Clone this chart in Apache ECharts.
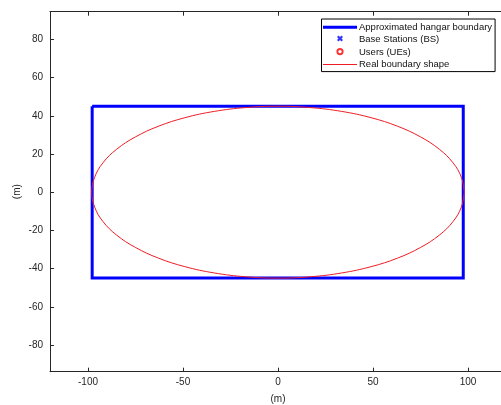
<!DOCTYPE html>
<html>
<head>
<meta charset="utf-8">
<script src="https://cdn.jsdelivr.net/npm/echarts@6/dist/echarts.min.js"></script>
<style>
  html, body { margin: 0; padding: 0; background: #fff; }
  #chart { width: 501px; height: 405px; }
</style>
</head>
<body>
<div id="chart"></div>
<script>
// hangar rectangle corners (m)
const hangarX = [-97.8, 97.5, 97.5, -97.8, -97.8];
const hangarY = [45, 45, -45, -45, 45];

// real boundary shape, every 10 degrees
const boundaryX = [98, 96.5, 92.1, 84.9, 75.1, 63.0, 49.0, 33.5, 17.0, 0,
  -17.0, -33.5, -49.0, -63.0, -75.1, -84.9, -92.1, -96.5, -98,
  -96.5, -92.1, -84.9, -75.1, -63.0, -49.0, -33.5, -17.0, 0,
  17.0, 33.5, 49.0, 63.0, 75.1, 84.9, 92.1, 96.5, 98];
const boundaryY = [0, 7.8, 15.4, 22.5, 28.9, 34.5, 39.0, 42.3, 44.3, 45,
  44.3, 42.3, 39.0, 34.5, 28.9, 22.5, 15.4, 7.8, 0,
  -7.8, -15.4, -22.5, -28.9, -34.5, -39.0, -42.3, -44.3, -45,
  -44.3, -42.3, -39.0, -34.5, -28.9, -22.5, -15.4, -7.8, 0];

const xTicks = [-100, -50, 0, 50, 100];
const yTicks = [-80, -60, -40, -20, 0, 20, 40, 60, 80];

const seriesNames = ['Approximated hangar boundary', 'Base Stations (BS)', 'Users (UEs)', 'Real boundary shape'];

const chart = echarts.init(document.getElementById('chart'));

const axisColor = '#262626';
const font = 'Liberation Sans, Arial, sans-serif';

// legend icons, padded so they keep their size inside the 34x12 slot
const thickLine = 'path://M0,0Z M34,12Z M0,4.5H34V7.5H0Z';
const thinLine = 'path://M0,0Z M34,12Z M0,5.5H34V6.5H0Z';
const crossIcon = 'path://M0,0Z M34,12Z M14,3.5L15.5,2L17,3.5L18.5,2L20,3.5L18.5,5L20,6.5L18.5,8L17,6.5L15.5,8L14,6.5L15.5,5Z';
const ringIcon = 'path://M0,0Z M34,12Z M17,2A3.6,3.6 0 1,1 17,9.2A3.6,3.6 0 1,1 17,2Z M17,3.9A1.7,1.7 0 1,0 17,7.3A1.7,1.7 0 1,0 17,3.9Z';

const option = {
  animation: false,
  grid: { left: 50, top: 11.7, width: 456, height: 360, outerBoundsMode: 'none' },
  legend: {
    orient: 'vertical',
    left: 321.5,
    top: 19,
    padding: [2, 3, 1, 1.5],
    itemWidth: 34,
    itemHeight: 12,
    itemGap: 0,
    borderColor: '#000',
    borderWidth: 1,
    borderRadius: 0,
    backgroundColor: '#fff',
    textStyle: { fontSize: 9.5, fontFamily: font, color: '#111', lineHeight: 12.4, padding: [0, 0, 0, -3] },
    data: [
      { name: seriesNames[0], icon: thickLine, itemStyle: { color: '#0000ff' } },
      { name: seriesNames[1], icon: crossIcon },
      { name: seriesNames[2], icon: ringIcon },
      { name: seriesNames[3], icon: thinLine, itemStyle: { color: '#ee1c24' } }
    ]
  },
  xAxis: [
    {
      type: 'value',
      min: -120,
      max: 120,
      name: '(m)',
      nameLocation: 'middle',
      nameGap: 23,
      nameMoveOverlap: false,
      nameTextStyle: { fontSize: 10, fontFamily: font, color: axisColor },
      splitLine: { show: false },
      axisLine: { show: true, onZero: false, lineStyle: { color: axisColor, width: 1 } },
      axisTick: { show: true, inside: true, length: 4, customValues: xTicks, lineStyle: { color: axisColor } },
      axisLabel: { customValues: xTicks, fontSize: 10, fontFamily: font, color: axisColor, margin: 6 }
    },
    {
      type: 'value',
      position: 'top',
      min: -120,
      max: 120,
      splitLine: { show: false },
      axisLine: { show: true, onZero: false, lineStyle: { color: axisColor, width: 1 } },
      axisTick: { show: true, inside: true, length: 4, customValues: xTicks, lineStyle: { color: axisColor } },
      axisLabel: { show: false }
    }
  ],
  yAxis: {
    type: 'value',
    min: -94,
    max: 94.5,
    name: '(m)',
    nameLocation: 'middle',
    nameGap: 28,
    nameMoveOverlap: false,
    nameTextStyle: { fontSize: 10, fontFamily: font, color: axisColor },
    splitLine: { show: false },
    axisLine: { show: true, onZero: false, lineStyle: { color: axisColor, width: 1 } },
    axisTick: { show: true, inside: true, length: 4, customValues: yTicks, lineStyle: { color: axisColor } },
    axisLabel: { customValues: yTicks, fontSize: 10, fontFamily: font, color: axisColor, margin: 7 }
  },
  series: [
    {
      name: seriesNames[0],
      type: 'line',
      symbol: 'none',
      color: '#0000ff',
      lineStyle: { color: '#0000ff', width: 3, join: 'miter' },
      data: hangarX.map((x, i) => [x, hangarY[i]]),
      z: 3
    },
    {
      name: seriesNames[1],
      type: 'scatter',
      color: '#0000ff',
      itemStyle: { color: '#0000ff' },
      data: []
    },
    {
      name: seriesNames[2],
      type: 'scatter',
      color: '#ff0000',
      itemStyle: { color: '#ff0000' },
      data: []
    },
    {
      name: seriesNames[3],
      type: 'line',
      symbol: 'none',
      smooth: 0.4,
      color: '#ee1c24',
      lineStyle: { color: '#ee1c24', width: 1 },
      data: boundaryX.map((x, i) => [x, boundaryY[i]]),
      z: 4
    }
  ]
};

chart.setOption(option);
</script>
</body>
</html>
